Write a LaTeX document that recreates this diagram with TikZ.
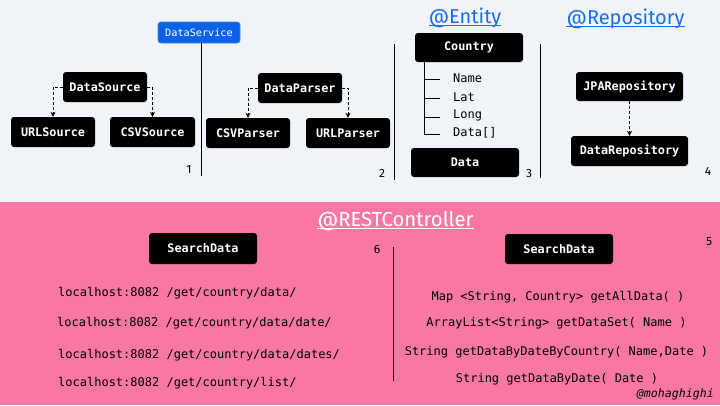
\documentclass[tikz,border=0pt]{standalone}
\usepackage{fontspec}
\setmainfont{Fira Sans}
\newfontfamily\monof{DejaVu Sans Mono}
\usetikzlibrary{arrows.meta}
\definecolor{bggray}{HTML}{F0F3F7}
\definecolor{pinkbg}{HTML}{F977A5}
\definecolor{svcblue}{HTML}{0B62E6}
\definecolor{svcedge}{HTML}{3F82EA}
\definecolor{hdrblue}{HTML}{1A6FE8}
\tikzset{
  blk/.style={fill=black, rounded corners=3pt, text=white, font=\monof\bfseries\fontsize{11.8}{13}\selectfont, inner sep=0pt, minimum height=30pt},
  svc/.style={fill=svcblue, draw=svcedge, line width=0.8pt, rounded corners=3pt, text=white, font=\monof\fontsize{10.2}{12}\selectfont, inner sep=0pt, minimum width=82pt, minimum height=21pt},
  dasharrow/.style={densely dashed, line width=0.8pt, -{Stealth[length=5pt,width=5pt]}},
  sep/.style={line width=0.9pt},
  num/.style={font=\fontsize{12}{14}\selectfont, inner sep=0pt},
  mono/.style={font=\monof\fontsize{12}{14}\selectfont, inner sep=0pt},
  hdr/.style={font=\fontsize{20}{22}\selectfont, inner sep=0pt, text=hdrblue},
}
\begin{document}
\begin{tikzpicture}[x=1pt,y=-1pt]
\useasboundingbox (0,0) rectangle (720,405);
\fill[bggray] (0,0) rectangle (720,202);
\fill[pinkbg] (0,202) rectangle (720,405);

% headers
\node[hdr, anchor=base] (hent) at (465,23) {@Entity};
\draw[hdrblue, line width=0.8pt] ([yshift=-2pt]hent.base west) -- ([yshift=-2pt]hent.base east);
\node[hdr, anchor=base] (hrep) at (625.5,24) {@Repository};
\draw[hdrblue, line width=0.8pt] ([yshift=-2pt]hrep.base west) -- ([yshift=-2pt]hrep.base east);
\node[hdr, text=white, font=\fontsize{20.3}{22}\selectfont, anchor=base] (hrest) at (395.5,226) {@RESTController};
\draw[white, line width=0.9pt] ([yshift=-2pt]hrest.base west) -- ([yshift=-2pt]hrest.base east);

% section 1
\node[svc] (dsvc) at (199,32.5) {DataService};
\node[blk, minimum width=84pt] (dsrc) at (105,87) {DataSource};
\node[blk, minimum width=84pt] (usrc) at (53,132) {URLSource};
\node[blk, minimum width=85pt] (csrc) at (152.5,132) {CSVSource};
\draw[dasharrow] (dsrc.west) -| (usrc.north);
\draw[dasharrow] (dsrc.east) -| (csrc.north);
\coordinate (l1a) at (201,43);
\coordinate (l1b) at (201,176);
\draw[sep] (l1a) -- (l1b);
\node[num] (n1) at (189,169) {1};

% section 2
\node[blk, minimum width=84pt] (dpar) at (300,88) {DataParser};
\node[blk, minimum width=84pt] (cpar) at (248,133) {CSVParser};
\node[blk, minimum width=84pt] (upar) at (348,133) {URLParser};
\draw[dasharrow] (dpar.west) -| (cpar.north);
\draw[dasharrow] (dpar.east) -| (upar.north);
\coordinate (l2a) at (394,44);
\coordinate (l2b) at (394,180);
\draw[sep] (l2a) -- (l2b);
\node[num] (n2) at (382,173) {2};

% section 3
\node[blk, minimum width=108pt, minimum height=29pt] (ctry) at (469,47.5) {Country};
\node[blk, minimum width=108pt, minimum height=29pt] (data) at (465,162.5) {Data};
\coordinate (t0) at (424,62);
\coordinate (t1) at (424,79);
\coordinate (t2) at (424,98);
\coordinate (t3) at (424,117);
\coordinate (t4) at (424,134);
\draw[line width=0.8pt] (t0) -- (t4) -- ++(16,0);
\draw[line width=0.8pt] (t1) -- ++(16,0);
\draw[line width=0.8pt] (t2) -- ++(16,0);
\draw[line width=0.8pt] (t3) -- ++(16,0);
\node[mono, anchor=west] (fname) at (453,78) {Name};
\node[mono, anchor=west] (flat) at (453,97) {Lat};
\node[mono, anchor=west] (flong) at (453,115) {Long};
\node[mono, anchor=west] (fdata) at (453,132.5) {Data[]};
\coordinate (l3a) at (540.5,44);
\coordinate (l3b) at (540.5,178);
\draw[sep] (l3a) -- (l3b);
\node[num] (n3) at (529,173) {3};

% section 4
\node[blk, minimum width=107pt, minimum height=29pt] (jpa) at (629.5,86.5) {JPARepository};
\node[blk, minimum width=117pt] (drep) at (629.5,151) {DataRepository};
\draw[dasharrow] (jpa) -- (drep);
\node[num] (n4) at (708,171) {4};

% bottom left
\node[blk, minimum width=108pt, minimum height=31pt] (sdl) at (203,248.5) {SearchData};
\node[num] (n6) at (377,249) {6};
\node[mono, anchor=west] (u1) at (58,293) {localhost:8082 /get/country/data/};
\node[mono, anchor=west] (u2) at (57,323) {localhost:8082 /get/country/data/date/};
\node[mono, anchor=west] (u3) at (58,355) {localhost:8082 /get/country/data/dates/};
\node[mono, anchor=west] (u4) at (58,383) {localhost:8082 /get/country/list/};
\coordinate (l4a) at (393,247);
\coordinate (l4b) at (393,381);
\draw[sep] (l4a) -- (l4b);

% bottom right
\node[blk, minimum width=108pt] (sdr) at (559,249) {SearchData};
\node[num] (n5) at (709,242) {5};
\node[mono] (m1) at (558,297) {Map <String, Country> getAllData( )};
\node[mono] (m2) at (556.5,323) {ArrayList<String> getDataSet( Name )};
\node[mono] (m3) at (556.5,352) {String getDataByDateByCountry( Name,Date )};
\node[mono] (m4) at (557,379) {String getDataByDate( Date )};
\node[font=\monof\itshape\fontsize{11.6}{13}\selectfont, inner sep=0pt, anchor=east] (sig) at (714,394) {@mohaghighi};
\end{tikzpicture}
\end{document}
